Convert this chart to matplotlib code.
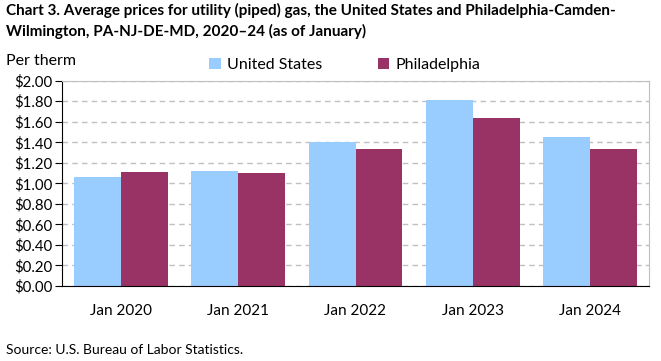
import matplotlib.pyplot as plt
import numpy as np

plt.rcParams['font.family'] = ['Lato', 'DejaVu Sans']

years = ["Jan 2020", "Jan 2021", "Jan 2022", "Jan 2023", "Jan 2024"]
us = [1.062, 1.120, 1.403, 1.812, 1.451]
phila = [1.110, 1.101, 1.334, 1.636, 1.334]

fig = plt.figure(figsize=(6.61, 3.61), dpi=100)
ax = fig.add_axes([62 / 661, 1 - 286 / 361, 587 / 661, 205.3 / 361])

x = np.arange(len(years))
w = 0.4
ax.bar(x - w / 2, us, w, color="#99CCFF", label="United States")
ax.bar(x + w / 2, phila, w, color="#993366", label="Philadelphia")

ax.set_xlim(-0.5, len(years) - 0.5)
ax.set_ylim(0, 2.0)
ax.set_yticks(np.arange(0, 2.01, 0.2))
ax.set_yticklabels([f"${v:.2f}" for v in np.arange(0, 2.01, 0.2)], fontsize=10.8)
ax.set_xticks(x)
ax.set_xticklabels(years, fontsize=11)
ax.tick_params(axis="x", length=0, pad=13)
ax.tick_params(axis="y", length=5, direction="out", pad=2)

ax.yaxis.grid(True, linestyle=(0, (4, 3)), color="#c0c0c0", linewidth=1)
ax.set_axisbelow(True)
for s in ["top", "right"]:
    ax.spines[s].set_color("#bfbfbf")
for s in ["left", "bottom"]:
    ax.spines[s].set_color("black")

fig.text(6 / 661, 1 - 3 / 361, "Chart 3. Average prices for utility (piped) gas, the United States and Philadelphia-Camden-\nWilmington, PA-NJ-DE-MD, 2020\u201324 (as of January)",
         fontsize=11, fontweight="bold", va="top", ha="left", linespacing=1.45)
fig.text(6 / 661, 1 - 61 / 361, "Per therm", fontsize=11.5, va="center", ha="left")
fig.text(6 / 661, 1 - 350 / 361, "Source: U.S. Bureau of Labor Statistics.", fontsize=10, va="center", ha="left")

fig.legend(loc="center", bbox_to_anchor=(345 / 661, 1 - 65 / 361), ncol=2, frameon=False,
           fontsize=11.5, handlelength=0.7, handleheight=0.7, columnspacing=3.5, handletextpad=0.4)

fig.savefig("out.png", dpi=100)
